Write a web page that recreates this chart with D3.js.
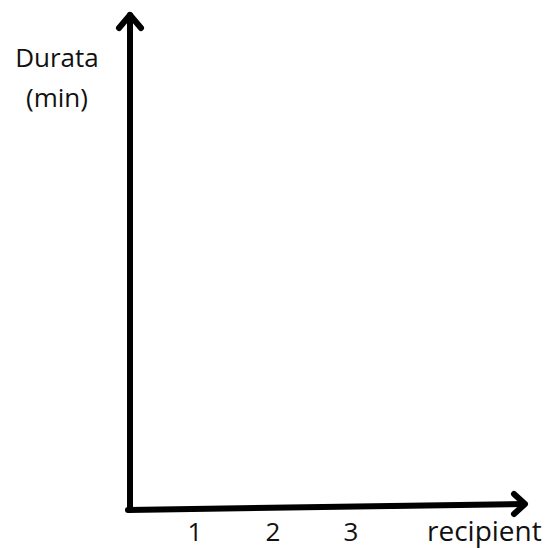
<!DOCTYPE html>
<meta charset="utf-8">
<style>
body { margin: 0; background: #fff; }
svg { font-family: "Open Sans", sans-serif; }
.axis-line { fill: none; stroke: #000; stroke-width: 6; stroke-linecap: round; stroke-linejoin: round; }
.lbl { font-size: 26px; fill: #111; }
</style>
<body>
<script src="https://d3js.org/d3.v7.min.js"></script>
<script>
var width = 546,
    height = 548;

// categories on the x axis (no values are plotted)
var categories = [1, 2, 3];
var xTitle = "recipient";
var yTitle = ["Durata", "(min)"];

var x = d3.scaleLinear()
    .domain([0, 4])
    .range([117, 429]);

var svg = d3.select("body").append("svg")
    .attr("width", width)
    .attr("height", height);

// y axis with arrow
svg.append("path")
    .attr("class", "axis-line")
    .attr("d", "M130,510L130,15");
svg.append("path")
    .attr("class", "axis-line")
    .attr("d", "M119,28L130,15L141,28");

// x axis with arrow (slightly tilted, as drawn)
svg.append("path")
    .attr("class", "axis-line")
    .attr("d", "M128,510L524,504");
svg.append("path")
    .attr("class", "axis-line")
    .attr("d", "M514,494L525,504L514,514");

svg.selectAll(".tick")
    .data(categories)
    .enter().append("text")
    .attr("class", "lbl tick")
    .attr("x", function(d) { return x(d); })
    .attr("y", 541)
    .attr("text-anchor", "middle")
    .text(function(d) { return d; });

svg.append("text")
    .attr("class", "lbl")
    .attr("x", 427)
    .attr("y", 541)
    .style("font-size", "28px")
    .text(xTitle);

svg.append("text")
    .attr("class", "lbl")
    .attr("text-anchor", "middle")
    .selectAll("tspan")
    .data(yTitle)
    .enter().append("tspan")
    .attr("x", 57)
    .attr("y", function(d, i) { return 67 + i * 40; })
    .text(function(d) { return d; });
</script>
</body>
